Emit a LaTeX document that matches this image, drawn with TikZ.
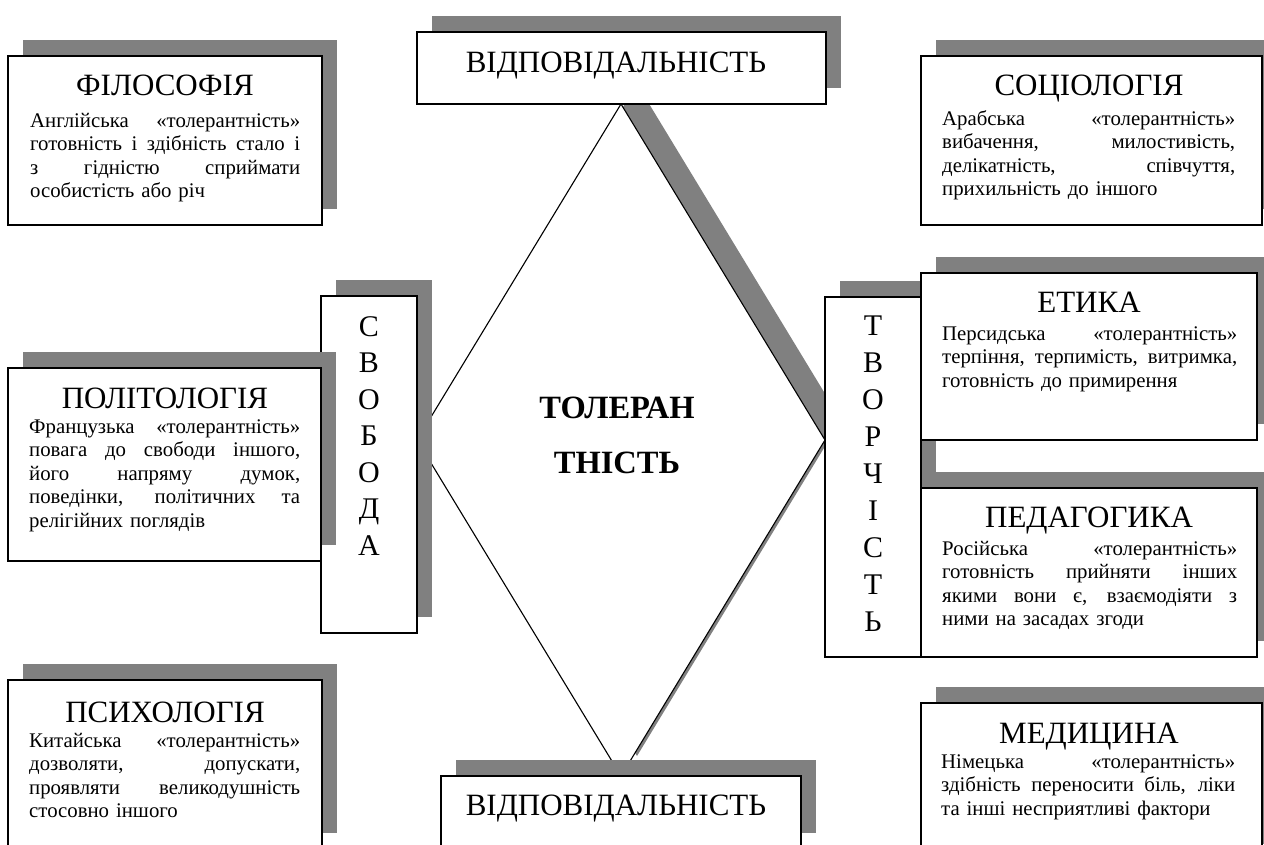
\documentclass[tikz,border=0pt]{standalone}
\usepackage{fontspec}
\setmainfont{Liberation Serif}
\usetikzlibrary{fit}
\definecolor{shadowgray}{HTML}{808080}
\newcommand\jline[2]{\leavevmode\hbox to #1{\spaceskip=0.25em plus 1fil\relax #2}}
\newcommand\mybox[5]{%
  \fill[shadowgray] ({#2+15},{#3-16}) rectangle ({#4+15},{#5-16});
  \node[boxst, fit={(#2,#3)(#4,#5)}] (#1) {};}
\begin{document}
\begin{tikzpicture}[x=1pt, y=-1pt,
  boxst/.style={draw=black, line width=1.6pt, fill=white, inner sep=0pt},
  ttl/.style={font=\fontsize{31}{31}\selectfont, anchor=base, inner sep=0pt},
  body/.style={font=\fontsize{20.8}{23.5}\selectfont, anchor=base west, inner sep=0pt, align=left},
  vlet/.style={font=\fontsize{30}{30}\selectfont, anchor=base, inner sep=0pt},
  center/.style={font=\fontsize{32.5}{32.5}\selectfont\bfseries, anchor=base, inner sep=0pt}]
\useasboundingbox (0,0) rectangle (1264,844);
\clip (0,0) rectangle (1264,844);
\fill[white] (0,0) rectangle (1264,844);

% diamond
\fill[shadowgray] (637,84) -- (841,420) -- (637,756) -- (433,420) -- cycle;
\draw[fill=white, line width=1.1pt] (621,104) -- (825,440) -- (621,776) -- (417,440) -- cycle;
\node[center] (tol1) at (617,418) {ТОЛЕРАН};
\node[center] (tol2) at (617,473) {ТНІСТЬ};

% top and bottom
\mybox{vidtop}{417}{32}{826}{104}
\node[ttl] (vidtopt) at (616,72) {ВІДПОВІДАЛЬНІСТЬ};
\mybox{vidbot}{441}{776}{801}{849}
\node[ttl] (vidbott) at (616,815) {ВІДПОВІДАЛЬНІСТЬ};

% left side
\mybox{svo}{321}{296}{417}{633}
\foreach \l [count=\i] in {С,В,О,Б,О,Д,А}
  \node[vlet] (sv\i) at ({369},{336+36.5*(\i-1)}) {\l};

\mybox{filo}{8}{56}{322}{225}
\node[ttl] (filot) at (165,95) {ФІЛОСОФІЯ};
\node[body, text width=270pt] (filob) at (30,127) {\jline{270pt}{Англійська «толерантність»}\\
\jline{270pt}{готовність і здібність стало і}\\
\jline{270pt}{з гідністю сприймати}\\
особистість або річ};

\mybox{poli}{8}{368}{321}{561}
\node[ttl] (polit) at (165,408) {ПОЛІТОЛОГІЯ};
\node[body, text width=271pt] (polib) at (29,433) {\jline{271pt}{Французька «толерантність»}\\
\jline{271pt}{повага до свободи іншого,}\\
\jline{271pt}{його напряму думок,}\\
\jline{271pt}{поведінки, політичних та}\\
релігійних поглядів};

\mybox{psyh}{8}{680}{322}{849}
\node[ttl] (psyht) at (165,722) {ПСИХОЛОГІЯ};
\node[body, text width=271pt] (psyhb) at (29,747) {\jline{271pt}{Китайська «толерантність»}\\
\jline{271pt}{дозволяти, допускати,}\\
\jline{271pt}{проявляти великодушність}\\
стосовно іншого};

% right side
\mybox{tvo}{825}{297}{921}{657}
\foreach \l [count=\i] in {Т,В,О,Р,Ч,І,С,Т,Ь}
  \node[vlet] (tv\i) at ({873},{335+37*(\i-1)}) {\l};

\mybox{soci}{921}{56}{1262}{225}
\node[ttl] (socit) at (1089,95) {СОЦІОЛОГІЯ};
\node[body, text width=293pt] (socib) at (942,125) {\jline{293pt}{Арабська «толерантність»}\\
\jline{293pt}{вибачення, милостивість,}\\
\jline{293pt}{делікатність, співчуття,}\\
прихильність до іншого};

\mybox{etyk}{921}{273}{1257}{440}
\node[ttl] (etykt) at (1089,312) {ЕТИКА};
\node[body, text width=295pt] (etykb) at (942,340) {\jline{295pt}{Персидська «толерантність»}\\
\jline{295pt}{терпіння, терпимість, витримка,}\\
готовність до примирення};

\mybox{peda}{921}{488}{1257}{657}
\node[ttl] (pedat) at (1089,527) {ПЕДАГОГИКА};
\node[body, text width=295pt] (pedab) at (942,555) {\jline{295pt}{Російська «толерантність»}\\
\jline{295pt}{готовність прийняти інших}\\
\jline{295pt}{якими вони є, взаємодіяти з}\\
ними на засадах згоди};

\mybox{medy}{921}{703}{1262}{860}
\node[ttl] (medyt) at (1089,743) {МЕДИЦИНА};
\node[body, text width=294pt] (medyb) at (941,768) {\jline{294pt}{Німецька «толерантність»}\\
\jline{294pt}{здібність переносити біль, ліки}\\
та інші несприятливі фактори};
\end{tikzpicture}
\end{document}
